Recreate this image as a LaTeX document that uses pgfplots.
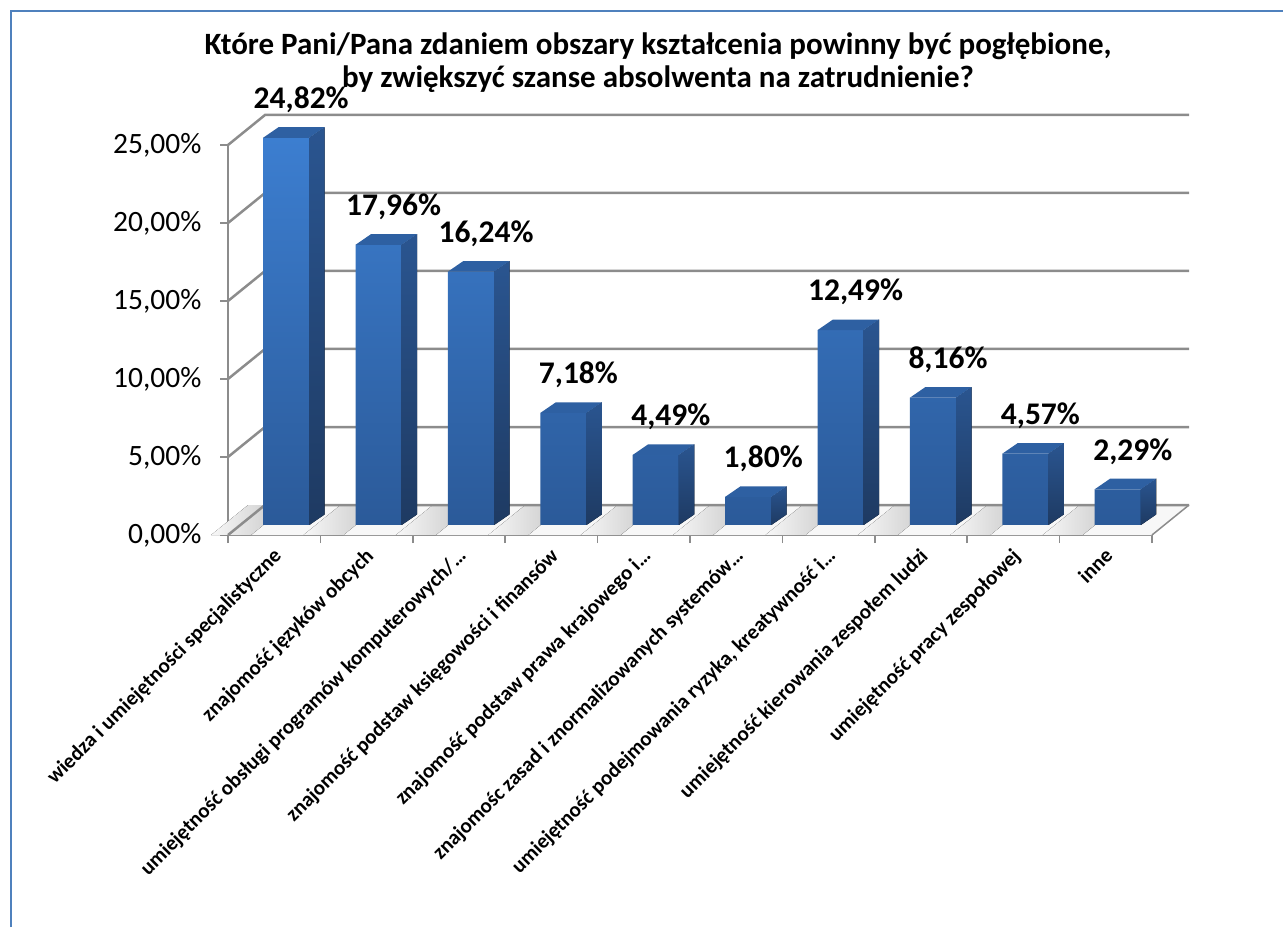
\documentclass[border=0pt]{standalone}
\usepackage{fontspec}
\setmainfont{Carlito}
\usepackage{pgfplots}
\usepackage{pgfplotstable}
\pgfplotsset{compat=1.18}

\definecolor{barfront}{HTML}{3C7ED0}
\definecolor{barfrontdark}{HTML}{2B5A99}
\definecolor{barside}{HTML}{2A5590}
\definecolor{barsidedark}{HTML}{1E3A62}
\definecolor{bartop}{HTML}{2E60A2}
\definecolor{gridgray}{HTML}{8C8C8C}
\definecolor{framecol}{HTML}{4F81BD}

% shares of answers, in %
\pgfplotstableread{
x v
0 24.82
1 17.96
2 16.24
3 7.18
4 4.49
5 1.80
6 12.49
7 8.16
8 4.57
9 2.29
}\data

\begin{document}
\begin{tikzpicture}
\useasboundingbox (0,0) rectangle (1283pt,927pt);
\draw[framecol, line width=2pt] (11pt,0) -- (11pt,916pt) -- (1283pt,916pt);
\node[font=\bfseries\fontsize{31}{33}\selectfont, align=center] at (658pt,864pt)
  {Które Pani/Pana zdaniem obszary kształcenia powinny być pogłębione,\\
   by zwiększyć szanse absolwenta na zatrudnienie?};

% walls, floor, axes
\begin{axis}[
    at={(228pt,392pt)}, anchor=south west,
    scale only axis, width=924pt, height=390pt,
    xmin=0, xmax=10, ymin=0, ymax=25,
    clip=false,
    axis x line*=bottom, axis y line*=left,
    axis line style={gridgray, line width=1.5pt, -},
    tick align=outside,
    major tick length=8pt, minor tick length=8pt,
    tick style={gridgray, line width=1.5pt},
    ytick={0,5,...,25},
    /pgf/number format/assume math mode=true,
    yticklabel={\pgfmathprintnumber[fixed,fixed zerofill,precision=2,use comma]{\tick}\%},
    yticklabel style={font=\fontsize{29.5}{31}\selectfont, xshift=-15pt},
    xtick={0.5,1.5,...,9.5},
    minor xtick={0,...,10},
    major x tick style={draw=none},
    xticklabels={
      wiedza i umiejętności specjalistyczne,
      znajomość języków obcych,
      umiejętność obsługi programów komputerowych/…,
      znajomość podstaw księgowości i finansów,
      znajomość podstaw prawa krajowego i…,
      znajomośc zasad i znormalizowanych systemów…,
      {umiejętność podejmowania ryzyka, kreatywność i…},
      umiejętność kierowania zespołem ludzi,
      umiejętność pracy zespołowej,
      inne},
    xticklabel style={font=\bfseries\fontsize{21}{24}\selectfont,
      text height=0.72em, text depth=0.22em, inner sep=0pt,
      anchor=north east, xshift=3pt, yshift=-9pt, rotate=45},
]
\fill[gray!6] (axis cs:0,0) -- (axis cs:10,0) -- ++(37pt,30pt) -- ([shift={(37pt,30pt)}]axis cs:0,0) -- cycle;
% shadows of the bars on the floor
\pgfplotsinvokeforeach{0,...,9}{
  \fill[left color=gray!6, right color=gray!45]
    ([shift={(-40pt,0pt)}]axis cs:#1+0.25,0) -- (axis cs:#1+0.25,0) -- ++(37pt,30pt)
    -- ++(-40pt,0pt) -- cycle;
}
\draw[gridgray, line width=1.5pt] (axis cs:10,0) -- ++(37pt,30pt);
\pgfplotsinvokeforeach{0,5,...,25}{
  \draw[gridgray, line width=2.5pt] (axis cs:0,#1) -- ++(37pt,30pt) -- ++(924pt,0pt);
}
\end{axis}

% bars, set back into the floor
\begin{axis}[
    at={(240pt,402pt)}, anchor=south west,
    scale only axis, width=924pt, height=390pt,
    xmin=0, xmax=10, ymin=0, ymax=25,
    clip=false, hide axis,
    /pgf/number format/assume math mode=true,
]
\addplot[ybar, bar width=46.2pt, draw=none,
    top color=barfront, bottom color=barfrontdark]
    table[x expr=\thisrow{x}+0.5, y=v] {\data};
\pgfplotsinvokeforeach{0,...,9}{
  \pgfplotstablegetelem{#1}{v}\of\data
  \let\barval\pgfplotsretval
  \pgfmathsetmacro\xr{#1+0.75}
  \pgfmathsetmacro\xl{#1+0.25}
  \edef\tmp{
    \noexpand\fill[top color=barside, bottom color=barsidedark]
      (axis cs:\xr,0) -- (axis cs:\xr,\barval) -- ++(15.4pt,10.6pt)
      -- ([shift={(15.4pt,10.6pt)}]axis cs:\xr,0) -- cycle;
    \noexpand\fill[bartop]
      (axis cs:\xl,\barval) -- (axis cs:\xr,\barval) -- ++(15.4pt,10.6pt)
      -- ([shift={(15.4pt,10.6pt)}]axis cs:\xl,\barval) -- cycle;
  }
  \tmp
}
\addplot[draw=none, mark=none,
    nodes near coords={\pgfmathprintnumber[fixed,fixed zerofill,precision=2,use comma]{\pgfplotspointmeta}\%},
    nodes near coords style={font=\bfseries\fontsize{31.5}{33}\selectfont,
      anchor=center, xshift=15pt, yshift=38pt, text=black}]
    table[x expr=\thisrow{x}+0.5, y=v] {\data};
\end{axis}
\end{tikzpicture}
\end{document}
